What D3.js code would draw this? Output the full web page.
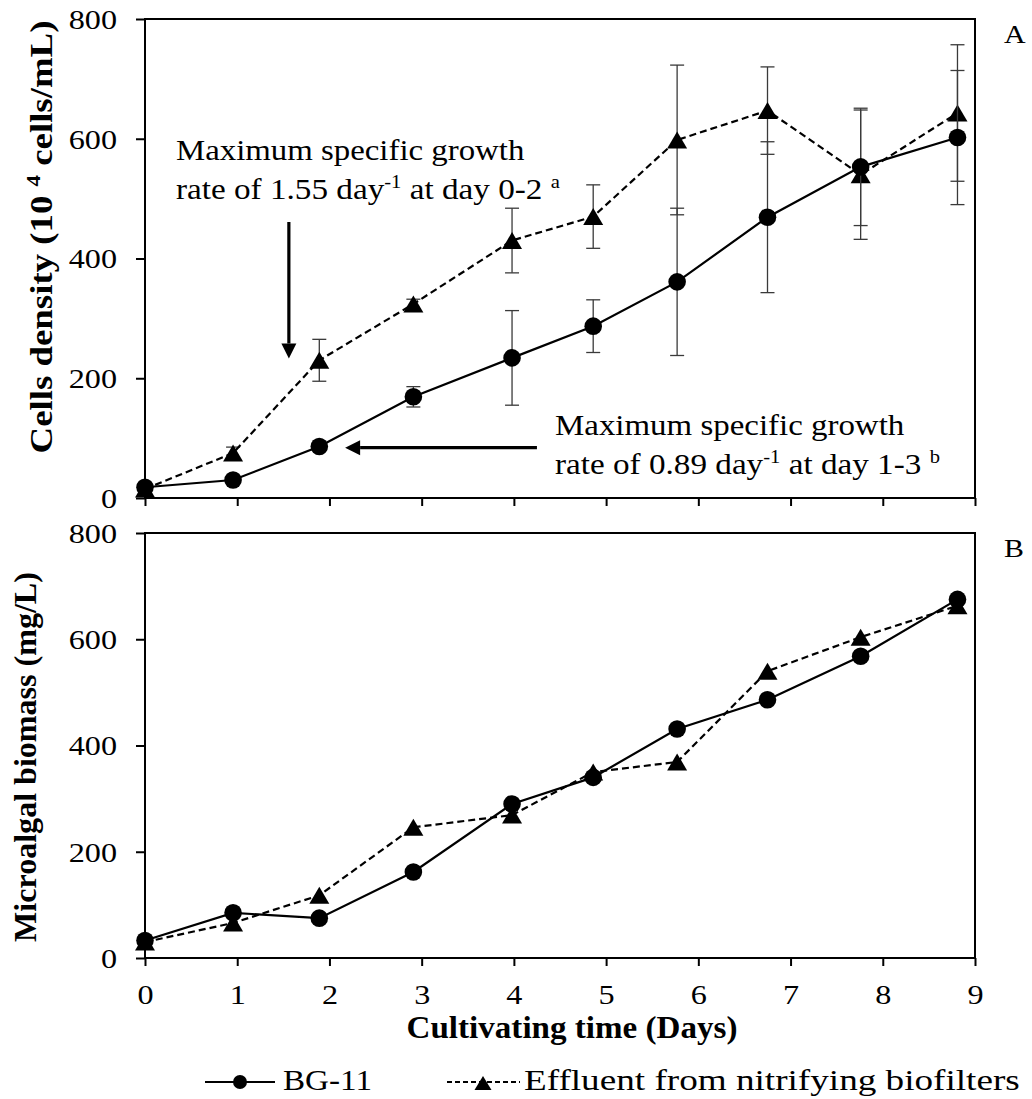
<!DOCTYPE html>
<html>
<head>
<meta charset="utf-8">
<script src="https://cdn.jsdelivr.net/npm/d3@7"></script>
<style>
  html, body { margin: 0; padding: 0; background: #fff; }
  svg { display: block; }
</style>
</head>
<body>
<svg id="chart" width="1032" height="1099"></svg>
<script>
// Sampling days
const days = [0, 0.955, 1.89, 2.91, 3.98, 4.86, 5.77, 6.75, 7.76, 8.81];

// Cell density (10^4 cells/mL) with standard deviations
const cellsBG     = [18, 30, 86, 169, 234, 287, 361, 469, 553, 602];
const cellsBGErr  = [3, 4, 6, 17, 79, 44, 123, 126, 98, 112];
const cellsEff    = [15, 75, 230, 324, 430, 470, 598, 647, 540, 643];
const cellsEffErr = [4, 10, 35, 8, 54, 53, 125, 73, 108, 114];

// Microalgal biomass (mg/L)
const biomassBG  = [33, 85, 75, 162, 290, 340, 431, 486, 568, 675];
const biomassEff = [30, 66, 118, 246, 269, 350, 369, 540, 604, 663];

// Axis ticks
const xTicks = [0, 1, 2, 3, 4, 5, 6, 7, 8, 9];
const yTicks = [0, 200, 400, 600, 800];

// Pick the first installed Times-like serif face
function pickFont(cands) {
  const ctx = document.createElement("canvas").getContext("2d");
  const probe = "Maximum specific growth 0123456789";
  ctx.font = "40px monospace";
  const base = ctx.measureText(probe).width;
  for (const f of cands) {
    ctx.font = `40px "${f}", monospace`;
    if (Math.abs(ctx.measureText(probe).width - base) > 0.5) return `"${f}"`;
  }
  return "serif";
}
const SERIF = pickFont(["Liberation Serif", "Times New Roman", "Times", "Tinos", "Nimbus Roman", "Nimbus Roman No9 L", "FreeSerif", "DejaVu Serif"]);

const svg = d3.select("#chart").style("font-family", SERIF);
const left = 145, right = 975;
const panelA = { top: 19, bottom: 498 };
const panelB = { top: 533, bottom: 958 };

const x = d3.scaleLinear().domain([0, 9]).range([left, right]);
const yA = d3.scaleLinear().domain([0, 800]).range([panelA.bottom, panelA.top]);
const yB = d3.scaleLinear().domain([0, 800]).range([panelB.bottom, panelB.top]);

// Text helper: builds a (possibly superscripted) label and stretches it to a given width
function label(parent, o) {
  const g = parent.append("g");
  const t = g.append("text")
    .attr("text-anchor", o.anchor || "start")
    .attr("fill", "#000")
    .style("font-family", SERIF)
    .style("font-size", o.size + "px")
    .style("font-weight", o.weight || "normal");
  let raised = 0;
  (o.parts || [[o.text]]).forEach(([s, kind]) => {
    const ts = t.append("tspan").text(s);
    if (kind === "sup") {
      const shift = o.size * 0.38;
      ts.style("font-size", (o.size * 0.62) + "px").attr("dy", -shift + raised);
      raised = shift;
    } else if (raised) {
      ts.attr("dy", raised);
      raised = 0;
    }
  });
  const w = t.node().getBBox().width;
  const sx = o.width ? o.width / w : (o.sx || 1);
  g.attr("transform", `translate(${o.x},${o.y}) rotate(${o.rotate || 0}) scale(${sx},1)`);
  return g;
}

function drawPanel(y, top, bottom, showLabels) {
  const g = svg.append("g");
  // y axis ticks + labels
  const ay = g.append("g").attr("transform", `translate(${left},0)`)
    .call(d3.axisLeft(y).tickValues(yTicks).tickSize(9).tickFormat(d3.format("d")));
  ay.select(".domain").remove();
  ay.selectAll(".tick line").attr("stroke", "#000").attr("stroke-width", 2);
  ay.selectAll(".tick text")
    .attr("x", null).attr("dy", "0.33em")
    .attr("transform", "translate(-28,0) scale(1.15,1)")
    .style("font-size", "28px").style("font-family", SERIF).attr("fill", "#000");
  // x axis ticks
  const ax = g.append("g").attr("transform", `translate(0,${bottom})`)
    .call(d3.axisBottom(x).tickValues(xTicks).tickSize(8).tickFormat(showLabels ? d3.format("d") : ""));
  ax.select(".domain").remove();
  ax.selectAll(".tick line").attr("stroke", "#000").attr("stroke-width", 2);
  ax.selectAll(".tick text")
    .attr("y", null).attr("dy", null)
    .attr("transform", "translate(0,46) scale(1.15,1)")
    .style("font-size", "28px").style("font-family", SERIF).attr("fill", "#000");
  // frame
  g.append("rect").attr("x", left).attr("y", top)
    .attr("width", right - left).attr("height", bottom - top)
    .attr("fill", "none").attr("stroke", "#000").attr("stroke-width", 2);
  return g;
}

const gA = drawPanel(yA, panelA.top, panelA.bottom, false);
const gB = drawPanel(yB, panelB.top, panelB.bottom, true);

const triPath = (w, h) => `M0,${-h / 2}L${w / 2},${h / 2}L${-w / 2},${h / 2}Z`;

function drawSeries(g, y, values, errs, dashed, marker) {
  const pts = days.map((d, i) => ({ d, v: values[i], e: errs ? errs[i] : 0 }));
  if (errs) {
    const eb = g.append("g").attr("stroke", "#3a3a3a").attr("stroke-width", 1.3).attr("fill", "none");
    pts.forEach(p => {
      const cx = x(p.d), y1 = y(p.v + p.e), y2 = y(p.v - p.e);
      eb.append("line").attr("x1", cx).attr("x2", cx).attr("y1", y1).attr("y2", y2);
      eb.append("line").attr("x1", cx - 7).attr("x2", cx + 7).attr("y1", y1).attr("y2", y1);
      eb.append("line").attr("x1", cx - 7).attr("x2", cx + 7).attr("y1", y2).attr("y2", y2);
    });
  }
  g.append("path").datum(pts)
    .attr("fill", "none").attr("stroke", "#000").attr("stroke-width", 2.2)
    .attr("stroke-dasharray", dashed ? "7,4" : null)
    .attr("d", d3.line().x(p => x(p.d)).y(p => y(p.v)));
  if (marker === "circle") {
    g.selectAll(null).data(pts).join("circle")
      .attr("cx", p => x(p.d)).attr("cy", p => y(p.v)).attr("r", 8.8).attr("fill", "#000");
  } else {
    g.selectAll(null).data(pts).join("path")
      .attr("transform", p => `translate(${x(p.d)},${y(p.v)})`)
      .attr("d", triPath(20, 17)).attr("fill", "#000");
  }
}

// Panel A: cell density
drawSeries(gA, yA, cellsEff, cellsEffErr, true, "triangle");
drawSeries(gA, yA, cellsBG, cellsBGErr, false, "circle");
// Panel B: biomass
drawSeries(gB, yB, biomassEff, null, true, "triangle");
drawSeries(gB, yB, biomassBG, null, false, "circle");

// Annotation arrows
function arrow(x1, y1, x2, y2) {
  const ang = Math.atan2(y2 - y1, x2 - x1);
  const L = 15, W = 7.5;
  const bx = x2 - L * Math.cos(ang), by = y2 - L * Math.sin(ang);
  svg.append("line").attr("x1", x1).attr("y1", y1).attr("x2", bx).attr("y2", by)
    .attr("stroke", "#000").attr("stroke-width", 3.2);
  const px = -Math.sin(ang) * W, py = Math.cos(ang) * W;
  svg.append("path")
    .attr("d", `M${x2},${y2}L${bx + px},${by + py}L${bx - px},${by - py}Z`)
    .attr("fill", "#000");
}
arrow(x(1.56), yA(461), x(1.56), yA(233));
arrow(x(4.25), yA(84), x(2.17), yA(84));

// Annotation texts
label(svg, { x: 176, y: 160, size: 29, width: 349, text: "Maximum specific growth" });
label(svg, { x: 176, y: 199, size: 29, width: 384,
  parts: [["rate of 1.55 day"], ["-1", "sup"], [" at day 0-2 "], ["a", "sup"]] });
label(svg, { x: 555, y: 435, size: 29, width: 350, text: "Maximum specific growth" });
label(svg, { x: 555, y: 474, size: 29, width: 385,
  parts: [["rate of 0.89 day"], ["-1", "sup"], [" at day 1-3 "], ["b", "sup"]] });

// Panel letters
label(svg, { x: 1004, y: 43, size: 26, sx: 1.15, text: "A" });
label(svg, { x: 1004, y: 557, size: 26, sx: 1.15, text: "B" });

// Axis titles
label(svg, { x: 52, y: 237, rotate: -90, anchor: "middle", size: 32, weight: "bold", width: 433,
  parts: [["Cells density (10 "], ["4", "sup"], [" cells/mL)"]] });
label(svg, { x: 36, y: 757, rotate: -90, anchor: "middle", size: 32, weight: "bold", width: 370,
  text: "Microalgal biomass (mg/L)" });
label(svg, { x: 572, y: 1038, anchor: "middle", size: 32, weight: "bold", width: 331,
  text: "Cultivating time (Days)" });

// Legend
const legendItems = [
  { name: "BG-11", x1: 205, x2: 275, mx: 240, tx: 283, tw: 89, dashed: false, marker: "circle" },
  { name: "Effluent from nitrifying biofilters", x1: 447, x2: 520, mx: 483, tx: 524, tw: 496, dashed: true, marker: "triangle" }
];
const ly = 1082;
const lg = svg.append("g");
legendItems.forEach(it => {
  lg.append("line").attr("x1", it.x1).attr("x2", it.x2).attr("y1", ly).attr("y2", ly)
    .attr("stroke", "#000").attr("stroke-width", 2)
    .attr("stroke-dasharray", it.dashed ? "5,3" : null);
  if (it.marker === "circle") {
    lg.append("circle").attr("cx", it.mx).attr("cy", ly).attr("r", 7).attr("fill", "#000");
  } else {
    lg.append("path").attr("transform", `translate(${it.mx},${ly + 1})`).attr("d", triPath(17, 14)).attr("fill", "#000");
  }
  label(lg, { x: it.tx, y: 1090, size: 29, width: it.tw, text: it.name });
});
</script>
</body>
</html>
